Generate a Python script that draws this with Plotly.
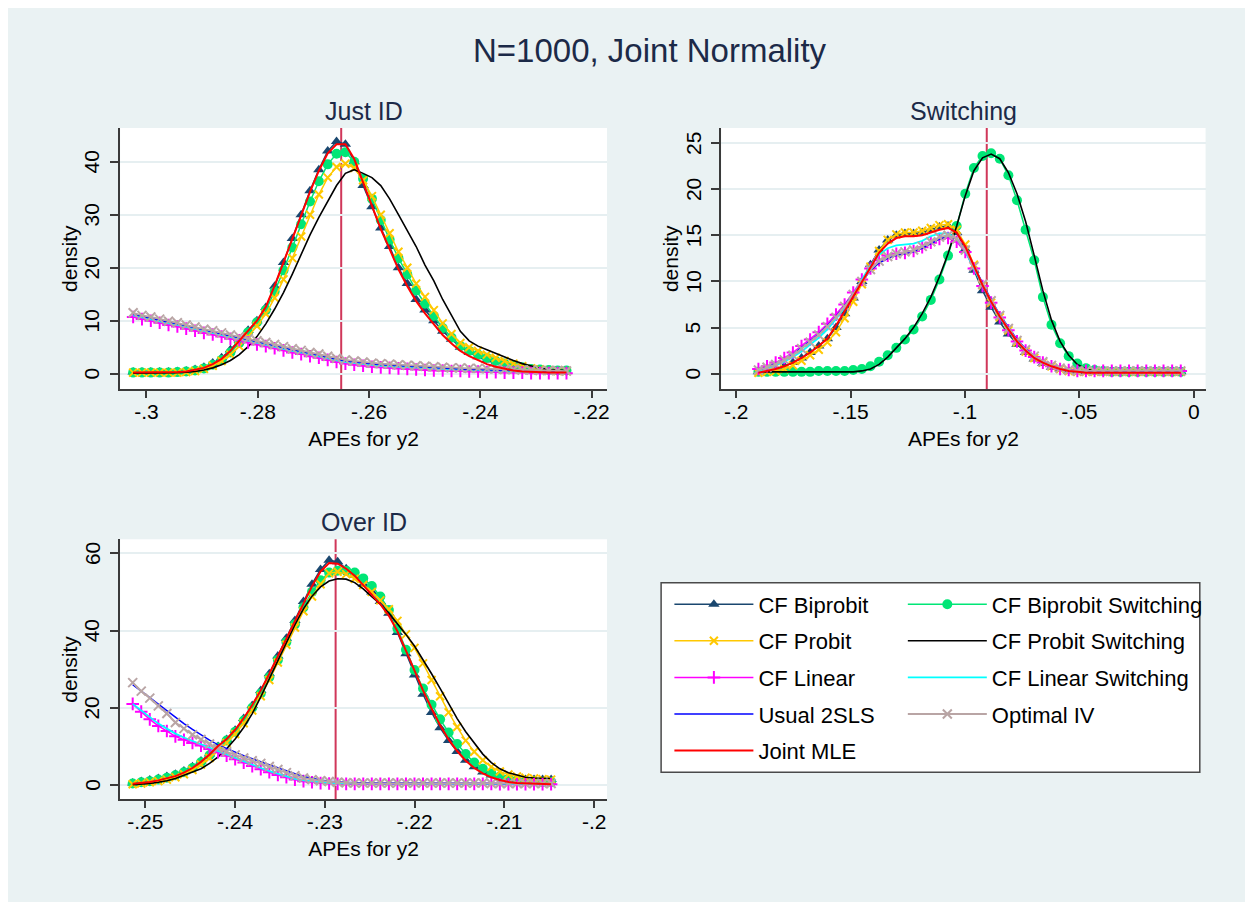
import numpy as np
import plotly.graph_objects as go

# page has an 8px body margin; the figure fills the light-blue graph region
OFF = 8
W, H = 1237, 894

# ---------------- data ----------------
# evaluation grids (50 points, first and last)
just_x_range = [-0.3024, -0.2245]
swit_x_range = [-0.1903, -0.0057]
over_x_range = [-0.2514, -0.2048]
n_points = 50

# Panel "Just ID"
jid_biprobit = [0.3,0.3,0.3,0.3,0.3,0.4,0.5,0.8,1.2,2.0,3.0,4.5,6.3,8.2,10.0,12.5,16.5,21.0,25.5,30.0,34.5,38.5,42.0,43.8,43.3,40.0,35.5,31.5,27.5,24.0,20.0,17.0,14.0,12.0,10.0,8.0,6.5,5.0,4.0,3.2,2.6,2.1,1.7,1.3,1.0,0.8,0.6,0.5,0.4,0.4]
jid_biprobit_sw = [0.2,0.2,0.2,0.2,0.2,0.3,0.4,0.6,1.0,1.7,2.6,4.0,5.8,7.8,9.7,12.0,15.5,19.5,23.8,28.2,32.5,36.3,39.5,41.5,41.8,40.0,36.8,33.0,29.0,25.3,21.8,18.7,15.7,13.2,10.9,8.6,6.8,5.2,4.3,3.6,3.0,2.4,1.9,1.5,1.2,0.9,0.8,0.7,0.6,0.6]
jid_probit = [0.2,0.2,0.2,0.2,0.2,0.2,0.3,0.5,0.9,1.5,2.4,3.6,5.2,7.0,9.0,11.3,14.3,17.8,21.8,25.9,30.0,33.8,37.0,39.0,39.6,38.8,36.5,33.5,30.0,26.5,23.0,20.0,17.0,14.5,12.0,9.5,7.5,5.8,5.0,4.3,3.6,3.0,2.4,1.9,1.4,1.0,0.8,0.6,0.5,0.5]
jid_probit_sw = [0.1,0.1,0.1,0.1,0.1,0.2,0.3,0.4,0.7,1.1,1.7,2.5,3.6,5.1,7.0,9.4,12.2,15.3,18.8,22.5,26.2,29.5,32.5,35.5,37.8,38.5,37.8,37.0,35.5,33.0,30.0,27.0,24.0,20.5,17.5,14.0,11.0,8.0,6.2,5.2,4.5,3.8,3.2,2.5,1.9,1.4,1.0,0.8,0.7,0.6]
jid_linear = [10.7,10.3,10.0,9.6,9.2,8.9,8.5,8.1,7.7,7.4,7.0,6.6,6.3,5.9,5.5,5.2,4.8,4.4,4.0,3.7,3.3,3.0,2.6,2.2,1.9,1.7,1.5,1.3,1.2,1.1,1.0,0.9,0.8,0.7,0.6,0.6,0.5,0.5,0.4,0.4,0.3,0.3,0.2,0.2,0.2,0.1,0.1,0.1,0.1,0.1]
jid_linear_sw = [11.0,10.6,10.3,9.9,9.5,9.2,8.8,8.4,8.0,7.7,7.3,6.9,6.6,6.2,5.8,5.5,5.1,4.7,4.3,4.0,3.6,3.3,2.9,2.5,2.2,2.0,1.8,1.6,1.5,1.4,1.3,1.2,1.1,1.0,0.9,0.9,0.8,0.8,0.7,0.7,0.6,0.6,0.5,0.5,0.4,0.4,0.3,0.3,0.3,0.2]
jid_2sls = [11.2,10.8,10.5,10.1,9.7,9.4,9.0,8.6,8.2,7.9,7.5,7.1,6.8,6.4,6.0,5.7,5.3,4.9,4.5,4.2,3.8,3.5,3.1,2.7,2.4,2.2,2.0,1.8,1.7,1.6,1.5,1.4,1.3,1.2,1.1,1.0,0.9,0.9,0.8,0.8,0.7,0.7,0.6,0.6,0.5,0.5,0.4,0.4,0.4,0.3]
jid_optiv = [11.5,11.0,10.7,10.3,9.9,9.6,9.2,8.8,8.4,8.1,7.7,7.3,7.0,6.6,6.2,5.9,5.5,5.1,4.7,4.4,4.0,3.7,3.3,2.9,2.6,2.4,2.2,2.0,1.9,1.8,1.7,1.6,1.5,1.4,1.3,1.2,1.1,1.1,1.0,1.0,0.9,0.9,0.8,0.8,0.7,0.7,0.6,0.6,0.6,0.5]
jid_mle = [0.2,0.2,0.2,0.2,0.3,0.3,0.4,0.7,1.1,1.8,2.8,4.3,6.2,8.2,10.0,12.6,16.6,21.0,25.5,30.0,34.3,38.3,41.6,43.3,43.3,40.5,36.0,31.6,27.3,23.5,19.7,16.5,13.7,11.4,9.3,7.3,5.7,4.3,3.3,2.5,1.8,1.3,0.9,0.6,0.4,0.3,0.2,0.2,0.2,0.2]

# Panel "Switching"
sw_biprobit = [0.2,0.3,0.5,0.8,1.2,1.7,2.3,3.0,3.8,5.0,6.5,8.2,10.0,11.8,13.4,14.5,15.0,15.2,15.2,15.3,15.6,15.9,16.0,15.3,13.5,11.2,9.0,7.2,5.6,4.3,3.2,2.3,1.6,1.1,0.7,0.5,0.3,0.2,0.2,0.2,0.2,0.2,0.2,0.2,0.2,0.2,0.2,0.2,0.2,0.2]
sw_biprobit_sw = [0.2,0.2,0.2,0.2,0.2,0.2,0.2,0.3,0.3,0.3,0.3,0.4,0.5,0.8,1.3,2.0,2.8,3.7,4.8,6.2,8.0,10.2,12.8,16.0,19.5,22.3,23.6,23.9,23.3,21.5,18.8,15.6,12.3,8.3,5.3,3.3,1.9,1.1,0.6,0.4,0.3,0.2,0.2,0.2,0.2,0.2,0.2,0.2,0.2,0.2]
sw_probit = [0.1,0.2,0.3,0.5,0.9,1.4,2.0,2.6,3.4,4.5,6.0,7.8,9.7,11.6,13.3,14.5,15.1,15.3,15.3,15.5,15.8,16.1,16.2,15.6,14.0,11.8,9.6,7.7,6.1,4.7,3.4,2.4,1.7,1.2,0.8,0.5,0.3,0.2,0.2,0.2,0.2,0.2,0.2,0.2,0.2,0.2,0.2,0.2,0.2,0.2]
sw_probit_sw = [0.2,0.2,0.2,0.2,0.2,0.2,0.2,0.2,0.2,0.2,0.2,0.2,0.3,0.5,1.0,1.8,2.8,3.8,5.0,6.5,8.3,10.5,13.0,16.0,19.3,22.0,23.4,23.8,23.3,21.8,19.5,16.5,12.8,9.0,5.8,3.5,2.0,1.0,0.5,0.3,0.2,0.2,0.2,0.2,0.2,0.2,0.2,0.2,0.2,0.2]
sw_linear = [0.5,0.8,1.2,1.7,2.3,3.0,3.7,4.5,5.4,6.4,7.5,8.8,10.2,11.4,12.3,12.8,13.0,13.1,13.3,13.7,14.2,14.6,14.7,14.3,13.2,11.4,9.5,7.7,6.1,4.7,3.5,2.5,1.8,1.2,0.8,0.5,0.4,0.3,0.3,0.3,0.3,0.3,0.3,0.3,0.3,0.3,0.3,0.3,0.3,0.3]
sw_linear_sw = [0.3,0.6,0.9,1.3,1.8,2.4,3.1,3.9,4.8,5.9,7.2,8.6,10.2,11.7,12.9,13.6,13.9,14.0,14.1,14.4,14.9,15.2,15.2,14.6,13.3,11.4,9.5,7.7,6.1,4.7,3.5,2.5,1.8,1.2,0.8,0.5,0.3,0.2,0.2,0.2,0.2,0.2,0.2,0.2,0.2,0.2,0.2,0.2,0.2,0.2]
sw_2sls = [0.4,0.7,1.1,1.5,2.1,2.8,3.5,4.3,5.2,6.2,7.4,8.7,10.0,11.2,12.0,12.5,12.8,13.0,13.2,13.6,14.1,14.6,14.9,14.6,13.5,11.7,9.8,8.0,6.4,5.0,3.7,2.7,1.9,1.3,0.9,0.6,0.4,0.3,0.2,0.2,0.2,0.2,0.2,0.2,0.2,0.2,0.2,0.2,0.2,0.2]
sw_optiv = [0.4,0.7,1.0,1.5,2.0,2.7,3.4,4.2,5.1,6.1,7.3,8.6,10.0,11.3,12.2,12.7,13.0,13.2,13.4,13.8,14.3,14.8,15.0,14.6,13.4,11.6,9.7,7.9,6.3,4.9,3.6,2.6,1.9,1.3,0.9,0.6,0.4,0.3,0.3,0.3,0.3,0.3,0.3,0.3,0.3,0.3,0.3,0.3,0.3,0.3]
sw_mle = [0.1,0.3,0.5,0.8,1.2,1.7,2.3,3.0,3.8,5.2,6.8,8.3,9.9,11.6,13.1,14.1,14.7,14.9,14.9,15.0,15.3,15.6,15.8,15.3,13.8,11.6,9.6,7.8,6.2,4.8,3.5,2.5,1.7,1.2,0.8,0.5,0.3,0.2,0.1,0.1,0.1,0.1,0.1,0.1,0.1,0.1,0.1,0.1,0.1,0.1]

# Panel "Over ID"
oid_biprobit = [0.5,0.9,1.3,1.7,2.2,2.8,3.6,4.7,6.2,8.0,10.0,11.8,14.2,17.2,20.6,24.5,28.8,33.4,38.0,42.6,47.5,52.0,55.8,58.2,57.8,56.0,54.3,52.0,50.0,47.5,44.5,39.5,34.0,28.5,23.5,18.8,14.8,11.5,8.7,6.4,4.7,3.4,2.6,2.0,1.7,1.5,1.4,1.4,1.4,1.4]
oid_biprobit_sw = [0.4,0.7,1.0,1.4,1.9,2.5,3.3,4.4,5.9,7.7,9.7,11.5,13.8,16.7,20.0,23.7,27.9,32.4,37.0,41.6,46.0,50.0,53.0,55.0,55.5,55.5,55.0,53.5,51.5,48.8,45.3,40.5,35.0,29.8,25.0,20.8,17.0,13.6,10.6,8.0,5.8,4.2,3.0,2.2,1.6,1.2,1.0,0.9,0.8,0.8]
oid_probit = [0.2,0.4,0.7,1.0,1.4,2.0,2.8,3.9,5.3,7.0,9.0,10.9,13.2,16.0,19.3,23.0,27.2,31.7,36.3,40.8,45.0,48.8,52.0,54.8,55.2,54.6,53.4,51.8,50.0,47.8,45.5,42.5,39.0,35.5,31.5,27.2,23.0,18.8,15.0,11.5,8.6,6.4,4.7,3.5,2.7,2.2,1.9,1.7,1.5,1.4]
oid_probit_sw = [0.1,0.2,0.4,0.7,1.1,1.7,2.5,3.3,4.2,5.6,7.3,9.4,11.9,14.9,18.5,22.8,27.5,32.5,37.2,41.5,45.6,48.9,51.3,52.8,53.4,53.3,52.4,50.8,48.8,46.8,44.5,41.8,39.0,36.0,32.5,28.8,25.0,21.0,17.2,13.8,10.8,8.0,5.8,4.2,3.2,2.5,2.0,1.8,1.7,1.7]
oid_linear = [21.0,19.0,17.0,15.3,14.0,12.6,11.7,10.9,10.2,9.3,8.5,7.6,6.7,5.8,4.9,4.1,3.3,2.6,2.0,1.4,1.0,0.7,0.5,0.4,0.3,0.3,0.3,0.3,0.3,0.3,0.3,0.3,0.3,0.3,0.3,0.3,0.3,0.3,0.3,0.3,0.3,0.3,0.3,0.2,0.2,0.2,0.2,0.2,0.2,0.2]
oid_linear_sw = [21.0,19.3,17.5,15.9,14.6,13.3,12.3,11.4,10.6,9.8,8.9,8.0,7.1,6.2,5.3,4.4,3.6,2.9,2.2,1.6,1.2,0.9,0.7,0.5,0.4,0.4,0.3,0.3,0.3,0.3,0.3,0.3,0.3,0.3,0.3,0.3,0.3,0.3,0.3,0.3,0.3,0.3,0.3,0.3,0.3,0.3,0.3,0.3,0.3,0.3]
oid_2sls = [26.0,24.3,22.6,20.9,19.2,17.5,15.9,14.4,12.9,11.6,10.4,9.4,8.5,7.6,6.8,6.0,5.2,4.4,3.6,2.9,2.2,1.7,1.3,1.0,0.8,0.7,0.6,0.5,0.5,0.5,0.5,0.5,0.5,0.5,0.5,0.5,0.5,0.5,0.5,0.5,0.5,0.5,0.4,0.4,0.4,0.4,0.4,0.4,0.4,0.4]
oid_optiv = [26.5,24.3,22.5,20.5,18.5,16.2,14.6,13.0,11.8,10.6,9.5,8.6,7.8,7.0,6.3,5.6,4.8,4.0,3.2,2.4,1.8,1.4,1.1,0.9,0.7,0.6,0.5,0.5,0.5,0.5,0.5,0.5,0.5,0.5,0.5,0.5,0.5,0.5,0.5,0.5,0.5,0.5,0.4,0.4,0.4,0.4,0.4,0.4,0.4,0.4]
oid_mle = [0.3,0.5,0.8,1.2,1.7,2.3,3.2,4.4,6.0,7.9,10.1,11.9,14.3,17.3,20.7,24.5,28.8,33.3,37.9,42.4,47.0,51.5,55.3,57.5,57.3,56.0,54.2,51.8,49.3,46.8,43.8,39.8,34.8,29.5,24.5,19.8,15.5,11.8,8.8,6.3,4.4,3.0,2.0,1.3,0.8,0.5,0.4,0.3,0.2,0.2]

# true APE (vertical reference line) per panel
true_ape = {"just": -0.265, "swit": -0.0905, "over": -0.2288}

panel_titles = {"just": "Just ID", "swit": "Switching", "over": "Over ID"}
x_ticks = {
    "just": ([-0.30, -0.28, -0.26, -0.24, -0.22], ["-.3", "-.28", "-.26", "-.24", "-.22"]),
    "swit": ([-0.20, -0.15, -0.10, -0.05, 0.0], ["-.2", "-.15", "-.1", "-.05", "0"]),
    "over": ([-0.25, -0.24, -0.23, -0.22, -0.21, -0.20], ["-.25", "-.24", "-.23", "-.22", "-.21", "-.2"]),
}
y_ticks = {
    "just": [0, 10, 20, 30, 40],
    "swit": [0, 5, 10, 15, 20, 25],
    "over": [0, 20, 40, 60],
}
x_ranges = {"just": [-0.30474, -0.21721], "swit": [-0.20654, 0.00515], "over": [-0.2528, -0.19857]}
y_ranges = {"just": [-2.89, 46.36], "swit": [-1.66, 26.63], "over": [-3.70, 63.62]}

series_names = ["CF Biprobit", "CF Biprobit Switching", "CF Probit", "CF Probit Switching",
                "CF Linear", "CF Linear Switching", "Usual 2SLS", "Optimal IV", "Joint MLE"]

panel_data = {
    "just": [jid_biprobit, jid_biprobit_sw, jid_probit, jid_probit_sw, jid_linear, jid_linear_sw, jid_2sls, jid_optiv, jid_mle],
    "swit": [sw_biprobit, sw_biprobit_sw, sw_probit, sw_probit_sw, sw_linear, sw_linear_sw, sw_2sls, sw_optiv, sw_mle],
    "over": [oid_biprobit, oid_biprobit_sw, oid_probit, oid_probit_sw, oid_linear, oid_linear_sw, oid_2sls, oid_optiv, oid_mle],
}
grid_ranges = {"just": just_x_range, "swit": swit_x_range, "over": over_x_range}

# ---------------- styles ----------------
FONT = "Liberation Sans, Arial, Helvetica, sans-serif"
NAVY = "#1A476F"
GREEN = "#00E676"
GOLD = "#FFC800"
styles = {
    "CF Biprobit": dict(color=NAVY, width=1.5, marker=dict(symbol="triangle-up", size=10, color=NAVY)),
    "CF Biprobit Switching": dict(color=GREEN, width=1.5, marker=dict(symbol="circle", size=10, color=GREEN)),
    "CF Probit": dict(color=GOLD, width=1.5, marker=dict(symbol="x-thin", size=8, color=GOLD, line=dict(color=GOLD, width=2))),
    "CF Probit Switching": dict(color="#000000", width=1.6, marker=None),
    "CF Linear": dict(color="#FF00FF", width=1.5, marker=dict(symbol="cross-thin", size=9, color="#FF00FF", line=dict(color="#FF00FF", width=2))),
    "CF Linear Switching": dict(color="#00FFFF", width=1.8, marker=None),
    "Usual 2SLS": dict(color="#0000FF", width=1.5, marker=None),
    "Optimal IV": dict(color="#B9A5A5", width=1.8, marker=dict(symbol="x-thin", size=9, color="#B9A5A5", line=dict(color="#B9A5A5", width=2))),
    "Joint MLE": dict(color="#FF0000", width=2.0, marker=None),
}
col1 = {"CF Biprobit", "CF Probit", "CF Linear", "Usual 2SLS", "Joint MLE"}

# ---------------- layout geometry (screen pixels -> paper) ----------------
def px_x(p):
    return (p - OFF) / W

def px_y(p):
    return 1 - (p - OFF) / H

axes_ids = {"just": ("x", "y"), "swit": ("x2", "y2"), "over": ("x3", "y3")}
domains = {
    "just": ([px_x(120.4), px_x(608.5)], [px_y(389), px_y(128)]),
    "swit": ([px_x(723), px_x(1208.5)], [px_y(389), px_y(128)]),
    "over": ([px_x(120.4), px_x(608.5)], [px_y(799.3), px_y(539.3)]),
}

fig = go.Figure()

for key in ["just", "swit", "over"]:
    xa, ya = axes_ids[key]
    gx = np.linspace(grid_ranges[key][0], grid_ranges[key][1], n_points)
    for name, ys in zip(series_names, panel_data[key]):
        st = styles[name]
        kw = dict(
            x=gx, y=ys, name=name, xaxis=xa, yaxis=ya,
            line=dict(color=st["color"], width=st["width"]),
            legendgroup=name, showlegend=(key == "just"),
            legend="legend" if name in col1 else "legend2",
            hoverinfo="skip",
        )
        if st["marker"] is not None:
            kw["mode"] = "lines+markers"
            kw["marker"] = st["marker"]
        else:
            kw["mode"] = "lines"
        fig.add_trace(go.Scatter(**kw))

AX = "#3A3A3A"
GRID = "#E6EFF1"
TXT = "#000000"
TITLE_C = "#1C2A48"

def axis_x(key):
    tv, tt = x_ticks[key]
    return dict(domain=domains[key][0], range=x_ranges[key], showline=True, linecolor=AX, linewidth=1.6,
                ticks="outside", ticklen=7, tickwidth=1.5, tickcolor=AX, tickvals=tv, ticktext=tt,
                ticklabelstandoff=-4,
                showgrid=False, zeroline=False, tickfont=dict(size=21, color=TXT, family=FONT),
                title=dict(text="APEs for y2", font=dict(size=21, color=TXT, family=FONT), standoff=9))

def axis_y(key):
    # vertical (rotated) tick labels are written as annotations below, on the same axis scale
    return dict(domain=domains[key][1], range=y_ranges[key], showline=True, linecolor=AX, linewidth=1.6,
                ticks="outside", ticklen=8, tickwidth=1.5, tickcolor=AX, tickvals=y_ticks[key],
                showticklabels=False,
                showgrid=True, gridcolor=GRID, gridwidth=1.5, zeroline=False)

fig.update_layout(
    xaxis=dict(axis_x("just"), anchor="y"), yaxis=dict(axis_y("just"), anchor="x"),
    xaxis2=dict(axis_x("swit"), anchor="y2"), yaxis2=dict(axis_y("swit"), anchor="x2"),
    xaxis3=dict(axis_x("over"), anchor="y3"), yaxis3=dict(axis_y("over"), anchor="x3"),
)

annotations = [
    dict(text="N=1000, Joint Normality", x=px_x(651.5), y=px_y(50.5), xref="paper", yref="paper",
         xanchor="center", yanchor="middle", showarrow=False, font=dict(size=33, color=TITLE_C, family=FONT)),
]
ytitle_x = {"just": 69.6, "swit": 672.2, "over": 69.6}
ylabel_x = {"just": 92.0, "swit": 694.6, "over": 92.0}
for key in ["just", "swit", "over"]:
    xa, ya = axes_ids[key]
    dx, dy = domains[key]
    annotations.append(dict(text=panel_titles[key], x=(dx[0] + dx[1]) / 2, y=dy[1] + 17.5 / H,
                            xref="paper", yref="paper", xanchor="center", yanchor="middle",
                            showarrow=False, font=dict(size=25, color=TITLE_C, family=FONT)))
    annotations.append(dict(text="density", x=px_x(ytitle_x[key]), y=(dy[0] + dy[1]) / 2, textangle=-90,
                            xref="paper", yref="paper", xanchor="center", yanchor="middle",
                            showarrow=False, font=dict(size=21, color=TXT, family=FONT)))
    for v in y_ticks[key]:
        annotations.append(dict(text=str(v), x=px_x(ylabel_x[key]), y=v, textangle=-90,
                                xref="paper", yref=ya, xanchor="center", yanchor="middle",
                                showarrow=False, font=dict(size=21, color=TXT, family=FONT)))

shapes = [
    # legend box
    dict(type="rect", xref="paper", yref="paper", x0=px_x(662.7), x1=px_x(1202.7), y0=px_y(772.3), y1=px_y(582.7),
         fillcolor="white", line=dict(color="#4A4A4A", width=1.5), layer="below"),
]
for key in ["just", "swit", "over"]:
    xa, ya = axes_ids[key]
    shapes.append(dict(type="line", xref=xa, yref=ya + " domain", x0=true_ape[key], x1=true_ape[key], y0=0, y1=1,
                       line=dict(color="#D0375A", width=2), layer="below"))

fig.update_layout(
    width=W, height=H, margin=dict(l=0, r=0, t=0, b=0),
    paper_bgcolor="#EAF2F3", plot_bgcolor="white",
    font=dict(family=FONT, color=TXT),
    annotations=annotations, shapes=shapes,
    legend=dict(x=px_x(671), y=px_y(583.4), xanchor="left", yanchor="top", bgcolor="rgba(0,0,0,0)",
                font=dict(size=22, color=TXT, family=FONT), itemwidth=79, tracegroupgap=5,
                orientation="v"),
    legend2=dict(x=px_x(905), y=px_y(583.4), xanchor="left", yanchor="top", bgcolor="rgba(0,0,0,0)",
                 font=dict(size=22, color=TXT, family=FONT), itemwidth=79, tracegroupgap=5,
                 orientation="v"),
)

fig.write_html("out.html")
